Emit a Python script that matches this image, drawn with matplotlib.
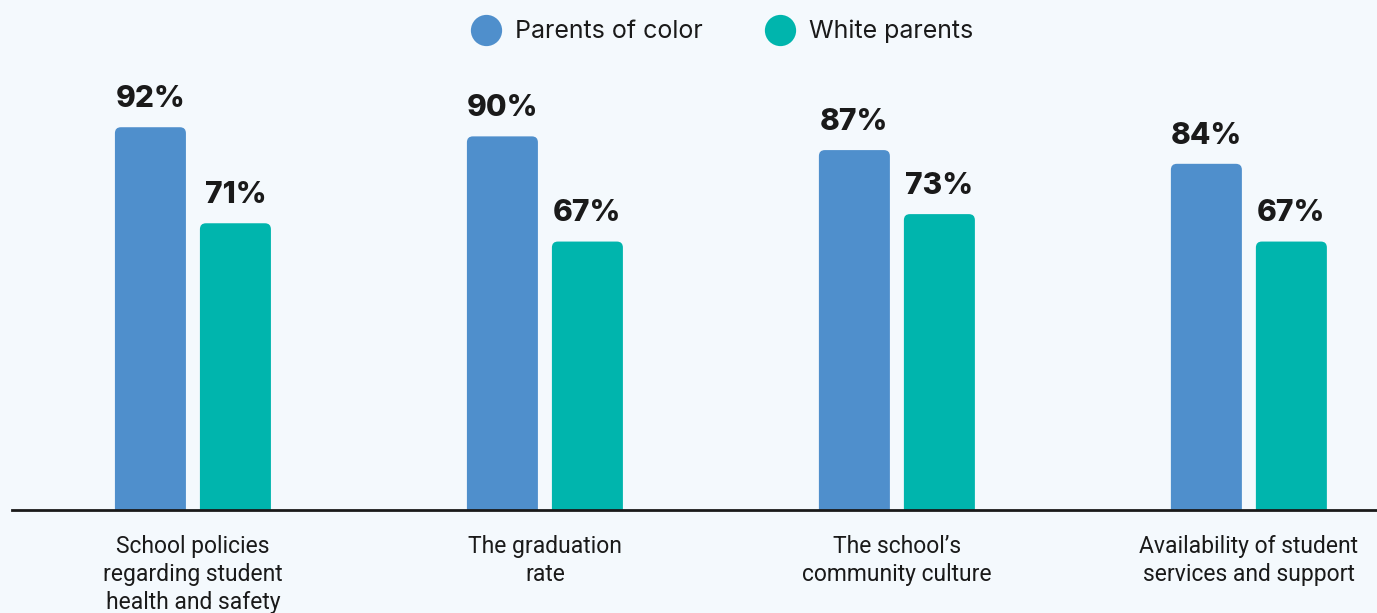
import matplotlib
matplotlib.use("Agg")
import matplotlib.pyplot as plt
from matplotlib.patches import FancyBboxPatch
from matplotlib.lines import Line2D
import matplotlib.transforms as mtransforms

categories = ["School policies\nregarding student\nhealth and safety",
              "The graduation\nrate",
              "The school\u2019s\ncommunity culture",
              "Availability of student\nservices and support"]
parents_of_color = [92, 90, 87, 84]
white_parents = [71, 67, 73, 67]
series_names = ["Parents of color", "White parents"]

BG = "#f4f9fd"
BLUE = "#4f8fcc"
TEAL = "#00b5ad"
TXT = "#1a1a1a"

W, H = 1377, 613
fig = plt.figure(figsize=(W / 100, H / 100), dpi=100, facecolor=BG)
ax = fig.add_axes([12 / W, (H - 510) / H, 1 - 12 / W, (510 - 60) / H])
ax.set_facecolor(BG)

ymin, ymax = 8.3, 106.7
ax.set_ylim(ymin, ymax)
ax.set_xlim(-0.514, 3.364)

bw = 71 / 352
off = 42.5 / 352
ppx = 352  # pixels per x unit
ppy = 450 / (ymax - ymin)
r = 6 / ppx

def rbar(x, h, color):
    p = FancyBboxPatch((x - bw / 2, 0), bw, h,
                       boxstyle=f"round,pad=0,rounding_size={r}",
                       mutation_aspect=ppx / ppy,
                       fc=color, ec="none", clip_on=True)
    ax.add_patch(p)

for i, (a, b) in enumerate(zip(parents_of_color, white_parents)):
    for x, v, c in ((i - off, a, BLUE), (i + off, b, TEAL)):
        rbar(x, v, c)
        ax.annotate(f"{v}%", (x, v), xytext=(0, 14.5), textcoords="offset points",
                    ha="center", va="baseline", fontsize=21.5, fontweight="heavy",
                    color=TXT, family=["Inter", "DejaVu Sans"])

for s in ["top", "right", "left"]:
    ax.spines[s].set_visible(False)
ax.spines["bottom"].set_color("#1a1a1a")
ax.spines["bottom"].set_linewidth(2)
ax.set_yticks([])
ax.set_xticks([])

trans = mtransforms.blended_transform_factory(ax.transData, fig.transFigure)
for i, lab in enumerate(categories):
    ax.text(i, 1 - 535 / H, lab, transform=trans, ha="center", va="top",
            fontsize=16.5, color=TXT, linespacing=1.27,
            family=["Roboto", "DejaVu Sans"])

# legend
for cx, col, name in ((486, BLUE, series_names[0]), (780, TEAL, series_names[1])):
    fig.add_artist(Line2D([cx / W], [1 - 30 / H], marker="o", markersize=22.5,
                          color=col, markeredgewidth=0, transform=fig.transFigure))
    fig.text((cx + 29) / W, 1 - 31.5 / H, name, ha="left", va="center",
             fontsize=18, color=TXT, family=["Inter", "DejaVu Sans"])

fig.savefig("out.png", dpi=100, facecolor=BG)
